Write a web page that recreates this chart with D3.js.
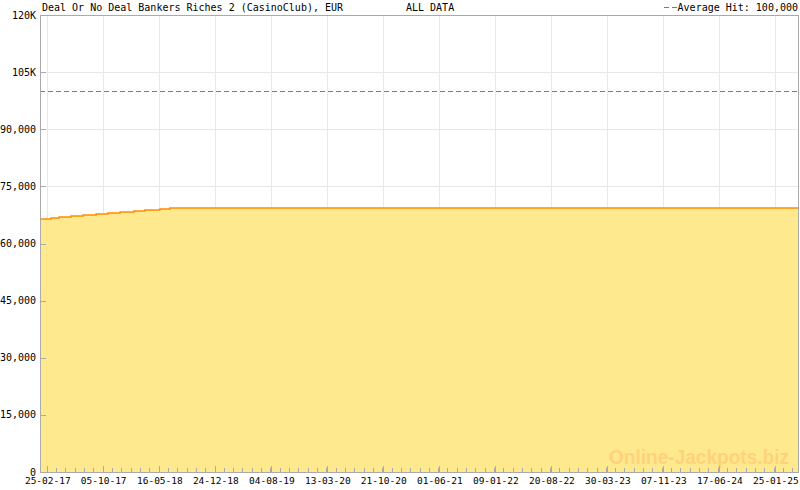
<!DOCTYPE html>
<html>
<head>
<meta charset="utf-8">
<script src="https://cdn.jsdelivr.net/npm/d3@7"></script>
<style>
body{margin:0;background:#fff;}
text{font-family:"DejaVu Sans Mono",monospace;font-size:10px;fill:#000;}
</style>
</head>
<body>
<div id="chart"></div>
<script>
// data
const stepDates = ['2017-01-29','2017-03-14','2017-04-15','2017-06-01','2017-07-19','2017-09-09',
                   '2017-10-26','2017-12-13','2018-02-06','2018-03-21','2018-05-20','2018-06-29','2025-05-01'];
const stepValues = [66430,66700,66960,67220,67480,67750,68010,68270,68530,68800,69060,69320,69320];
const xTickLabels = ['25-02-17','05-10-17','16-05-18','24-12-18','04-08-19','13-03-20','21-10-20',
                     '01-06-21','09-01-22','20-08-22','30-03-23','07-11-23','17-06-24','25-01-25'];
const yTicks = [0,15000,30000,45000,60000,75000,90000,105000,120000];
const yTickLabels = ['0','15,000','30,000','45,000','60,000','75,000','90,000','105K','120K'];
const averageHit = 100000;
const domainStart = '2017-01-29', domainEnd = '2025-05-01';

const width = 800, height = 490;
const margin = {top:15, right:1, bottom:18, left:40};
const parse = d3.utcParse('%Y-%m-%d');
const parseTick = d3.utcParse('%d-%m-%y');

const data = stepDates.map((d,i)=>({date:parse(d), value:stepValues[i]}));
const tickDates = xTickLabels.map(parseTick);

const svg = d3.select('#chart').append('svg').attr('width',width).attr('height',height);

const x = d3.scaleUtc().domain([parse(domainStart), parse(domainEnd)]).range([margin.left, width-margin.right]);
const y = d3.scaleLinear().domain([0,120000]).range([height-margin.bottom, margin.top]);

// grid
svg.append('g').selectAll('line').data(yTicks.slice(1,-1)).join('line')
  .attr('x1',margin.left).attr('x2',width-margin.right)
  .attr('y1',d=>Math.round(y(d))+0.5).attr('y2',d=>Math.round(y(d))+0.5)
  .attr('stroke','#e8e8e8');
svg.append('g').selectAll('line').data(tickDates).join('line')
  .attr('x1',d=>Math.round(x(d))+0.5).attr('x2',d=>Math.round(x(d))+0.5)
  .attr('y1',margin.top).attr('y2',height-margin.bottom)
  .attr('stroke','#e8e8e8');

// area + step line
const area = d3.area().curve(d3.curveStepAfter)
  .x(d=>x(d.date)).y0(y(0)).y1(d=>y(d.value));
const line = d3.line().curve(d3.curveStepAfter)
  .x(d=>x(d.date)).y(d=>y(d.value));
svg.append('path').datum(data).attr('d',area).attr('fill','#ffe98f');
svg.append('path').datum(data).attr('d',line).attr('fill','none')
  .attr('stroke','#ff8c00').attr('stroke-width',1.5);

// watermark
svg.append('text').attr('x',789).attr('y',464).attr('text-anchor','end')
  .style('font-family','"Liberation Sans",Arial,sans-serif').style('font-weight','bold')
  .style('font-size','21px').style('fill','#ffd27a')
  .attr('textLength',180).attr('lengthAdjust','spacingAndGlyphs')
  .text('Online-Jackpots.biz');

// average line
svg.append('line').attr('x1',margin.left).attr('x2',width-margin.right)
  .attr('y1',Math.round(y(averageHit))+0.5).attr('y2',Math.round(y(averageHit))+0.5)
  .attr('stroke','#3a8ad0').attr('stroke-dasharray','5,3');

// frame
svg.append('rect').attr('x',margin.left+0.5).attr('y',margin.top+0.5)
  .attr('width',width-margin.left-margin.right-1).attr('height',height-margin.top-margin.bottom)
  .attr('fill','none').attr('stroke','#aaa');

// y axis ticks + labels
const yAxis = svg.append('g');
yAxis.selectAll('line').data(yTicks).join('line')
  .attr('x1',margin.left).attr('x2',margin.left+6)
  .attr('y1',d=>Math.round(y(d))+0.5).attr('y2',d=>Math.round(y(d))+0.5)
  .attr('stroke','#aaa');
yAxis.selectAll('text').data(yTicks).join('text')
  .attr('x',36).attr('y',d=>y(d)+3.5).attr('text-anchor','end')
  .text((d,i)=>yTickLabels[i]);

// x axis: major + minor ticks
const minor = [];
const step = (tickDates[1]-tickDates[0])/6;
for(let t=+tickDates[0]-step; t<=+parse(domainEnd); t+=step){
  if(t>=+parse(domainStart)) minor.push(new Date(t));
}
const xAxis = svg.append('g');
xAxis.selectAll('line').data(minor).join('line')
  .attr('x1',d=>Math.round(x(d))+0.5).attr('x2',d=>Math.round(x(d))+0.5)
  .attr('y1',y(0)).attr('y2',y(0)-4).attr('stroke','#aaa');
xAxis.selectAll('line.major').data(tickDates).join('line').attr('class','major')
  .attr('x1',d=>Math.round(x(d))+0.5).attr('x2',d=>Math.round(x(d))+0.5)
  .attr('y1',y(0)).attr('y2',y(0)-6).attr('stroke','#aaa');
xAxis.selectAll('text').data(tickDates).join('text')
  .attr('x',d=>x(d)+1).attr('y',484).attr('text-anchor','middle')
  .style('font-size','9.5px')
  .text(d3.utcFormat('%d-%m-%y'));

// header texts
svg.append('text').attr('x',42).attr('y',11).text('Deal Or No Deal Bankers Riches 2 (CasinoClub), EUR');
svg.append('text').attr('x',406).attr('y',11).text('ALL DATA');
svg.append('line').attr('x1',664).attr('x2',678).attr('y1',7.5).attr('y2',7.5)
  .attr('stroke','#3a8ad0').attr('stroke-dasharray','5,3');
svg.append('text').attr('x',798).attr('y',11).attr('text-anchor','end').text('Average Hit: 100,000');
</script>
</body>
</html>
